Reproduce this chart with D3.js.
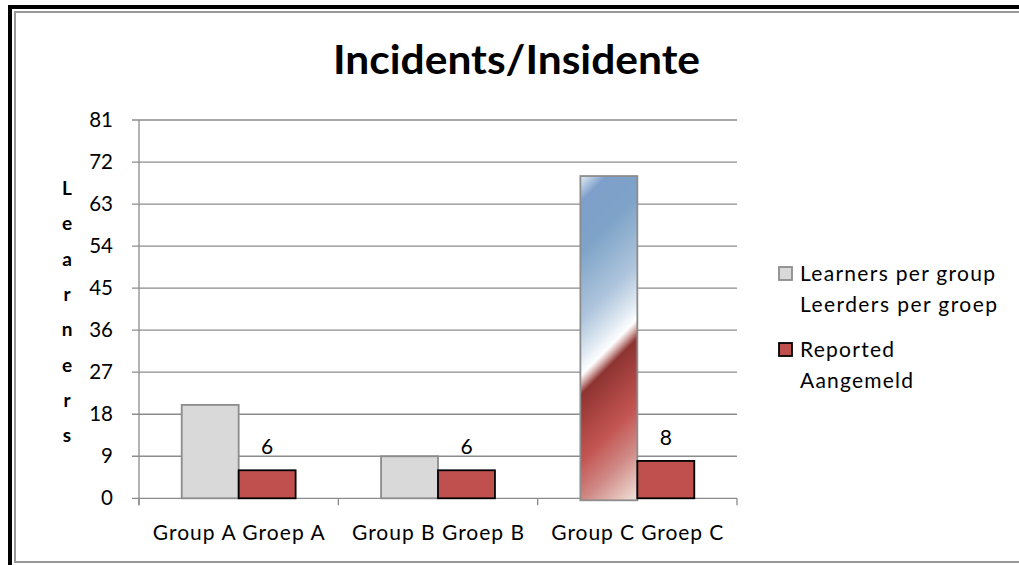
<!DOCTYPE html>
<html><head><meta charset="utf-8">
<script src="https://cdn.jsdelivr.net/npm/d3@7"></script>
<style>body{margin:0;background:#fff}svg{display:block}text{font-family:Lato,"Liberation Sans",Arial,sans-serif;fill:#000}</style>
</head><body>
<svg id="c" width="1019" height="565"></svg>
<script>
const categories = ["Group A Groep A", "Group B Groep B", "Group C Groep C"];
const learners = [20, 9, 69];
const reported = [6, 6, 8];
const seriesNames = [["Learners per group", "Leerders per groep"], ["Reported", "Aangemeld"]];
const yTicks = [0, 9, 18, 27, 36, 45, 54, 63, 72, 81];
const title = "Incidents/Insidente";
const yTitle = "Learners";

(function () {
const svg = d3.select("#c");
function fit(sel, w, mode) {
  sel.attr("textLength", w).attr("lengthAdjust", mode || "spacing");
}
// frame
svg.append("rect").attr("x", 15).attr("y", 12).attr("width", 1040).attr("height", 550)
  .attr("fill", "#fff").attr("stroke", "#999").attr("stroke-width", 2);
svg.append("path").attr("d", "M10,565 V7 H1019").attr("fill", "none").attr("stroke", "#000").attr("stroke-width", 4);

const x0 = 139, x1 = 737, yTop = 120, yBot = 498.3;
const x = d3.scaleBand().domain(categories).range([x0, x1]).paddingInner(0).paddingOuter(0);
const y = d3.scaleLinear().domain([0, 81]).range([yBot, yTop]);
const bw = x.bandwidth() / 3.5;

// title
svg.append("text").attr("x", 333).attr("y", 74.3)
  .attr("font-size", 39.5).attr("font-weight", "bold").text(title)
  .call(fit, 367, "spacingAndGlyphs");

// gridlines
const g = svg.append("g");
g.selectAll("line.grid").data(yTicks).join("line")
  .attr("x1", x0 - 7).attr("x2", x1).attr("y1", d => y(d)).attr("y2", d => y(d))
  .attr("stroke", "#8c8c8c").attr("stroke-width", 1.3);
// y axis line
g.append("line").attr("x1", x0).attr("x2", x0).attr("y1", yTop).attr("y2", yBot + 7)
  .attr("stroke", "#8c8c8c").attr("stroke-width", 1.3);
// x ticks
const xt = categories.map(c => x(c)).concat([x1]);
g.selectAll("line.xt").data(xt).join("line")
  .attr("x1", d => d).attr("x2", d => d).attr("y1", yBot).attr("y2", yBot + 7)
  .attr("stroke", "#8c8c8c").attr("stroke-width", 1.3);
// y labels
g.selectAll("text.yl").data(yTicks).join("text")
  .attr("x", 113).attr("y", d => y(d) + 7).attr("text-anchor", "end")
  .attr("font-size", 20.5).text(d => d);
// y title stacked
svg.append("g").selectAll("text").data(yTitle.split("")).join("text")
  .attr("x", 67).attr("y", (d, i) => 195 + i * 35.3).attr("text-anchor", "middle")
  .attr("font-size", 19).attr("font-weight", "bold").text(d => d);
// x labels
g.selectAll("text.xl").data(categories).join("text")
  .attr("x", d => x(d) + x.bandwidth() / 2 - 86).attr("y", 539.5)
  .attr("font-size", 21).text(d => d).call(fit, 172);

// gradient for group C
const defs = svg.append("defs");
const cx = x(categories[2]) + x.bandwidth() / 2 - bw;
const barTop = y(learners[2]), h = yBot + 2 - barTop;
const L = (bw + h) / 2;
const grad = defs.append("linearGradient").attr("id", "gc").attr("gradientUnits", "userSpaceOnUse")
  .attr("x1", cx).attr("y1", barTop).attr("x2", cx + L).attr("y2", barTop + L);
[[0, "#e4eef5"], [0.07, "#7e9fca"], [0.2, "#7ea3c8"], [0.38, "#aec5dc"], [0.48, "#e2ebf3"], [0.525, "#ffffff"],
 [0.545, "#d9b4b2"], [0.575, "#8d3431"], [0.66, "#a94441"], [0.75, "#c35552"], [0.86, "#d08a86"], [1, "#f1e4dc"]]
  .forEach(([o, c]) => grad.append("stop").attr("offset", o).attr("stop-color", c));

// bars
const bars = svg.append("g");
bars.selectAll("rect.l").data(learners).join("rect")
  .attr("x", (d, i) => x(categories[i]) + x.bandwidth() / 2 - bw)
  .attr("y", d => y(d)).attr("width", bw)
  .attr("height", (d, i) => yBot - y(d) + (i === 2 ? 2 : 0))
  .attr("fill", (d, i) => i === 2 ? "url(#gc)" : "#d9d9d9")
  .attr("stroke", "#8c8c8c").attr("stroke-width", 1.8);
bars.selectAll("rect.r").data(reported).join("rect")
  .attr("x", (d, i) => x(categories[i]) + x.bandwidth() / 2)
  .attr("y", d => y(d)).attr("width", bw).attr("height", d => yBot - y(d))
  .attr("fill", "#c0504d").attr("stroke", "#000").attr("stroke-width", 1.8);
bars.selectAll("text.v").data(reported).join("text")
  .attr("x", (d, i) => x(categories[i]) + x.bandwidth() / 2 + bw / 2)
  .attr("y", d => y(d) - 16).attr("text-anchor", "middle").attr("font-size", 21).text(d => d);

// legend
const leg = svg.append("g");
const legY = [267, 343];
const legFill = ["#d9d9d9", "#c0504d"], legStroke = ["#8c8c8c", "#000"];
const legW = [[195, 197], [94, 113]];
seriesNames.forEach((names, i) => {
  leg.append("rect").attr("x", 779).attr("y", legY[i]).attr("width", 13).attr("height", 13)
    .attr("fill", legFill[i]).attr("stroke", legStroke[i]).attr("stroke-width", 1.8);
  names.forEach((n, j) => leg.append("text").attr("x", 800).attr("y", legY[i] + 14 + j * 31)
    .attr("font-size", 21).text(n).call(fit, legW[i][j]));
});
})();
</script>
</body></html>
